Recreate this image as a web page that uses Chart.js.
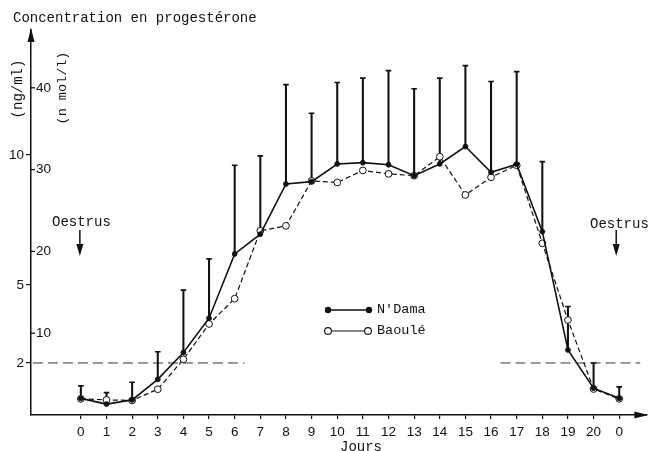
<!DOCTYPE html>
<html><head><meta charset="utf-8">
<script src="https://cdn.jsdelivr.net/npm/chart.js@4"></script>
<style>html,body{margin:0;padding:0;background:#fff}#wrap{width:652px;height:451px;position:relative}</style>
</head><body><div id="wrap"><canvas id="c"></canvas></div>
<script>
// ---- data ----
const dayLabels = ['0','1','2','3','4','5','6','7','8','9','10','11','12','13','14','15','16','17','18','19','20','0'];
const dayIndex = dayLabels.map((_, i) => i);
const ndama      = [0.64,0.42,0.58,1.37,2.40,3.72,6.19,6.95,8.88,8.97,9.65,9.70,9.62,9.20,9.65,10.32,9.33,9.64,7.05,2.50,1.03,0.64];
const baoule     = [0.62,0.58,0.56,0.99,2.14,3.50,4.47,7.08,7.27,9.00,8.94,9.40,9.27,9.20,9.93,8.46,9.14,9.60,6.60,3.65,1.00,0.62];
const ndamaUpper = [1.12,0.86,1.26,2.43,4.80,6.00,9.60,9.96,12.70,11.60,12.78,12.95,13.24,12.54,12.95,13.43,12.82,13.20,9.74,4.17,2.00,1.08];
const ngTicks = [2, 5, 10];
const nmolTicks = [10, 20, 30, 40];
const nmolPerNg = 3.18;
const threshold = 2;
const thresholdLeft = [-1.87, 6.38];
const thresholdRight = [16.37, 21.82];

// ---- layout constants ----
const X_MIN = -1.945, X_MAX = 22.06, Y_MAX = 14.8;
const MONO = '"Liberation Mono", "DejaVu Sans Mono", monospace';
const SANS = '"Liberation Sans", Arial, sans-serif';

function downArrow(ctx, x, y0, y1) {
  ctx.beginPath(); ctx.moveTo(x, y0); ctx.lineTo(x, y1 - 8); ctx.stroke();
  ctx.beginPath(); ctx.moveTo(x, y1); ctx.lineTo(x - 3.5, y1 - 12); ctx.lineTo(x + 3.5, y1 - 12); ctx.closePath(); ctx.fill();
}

const extras = {
  id: 'extras',
  afterDraw(chart) {
    const ctx = chart.ctx, ca = chart.chartArea, y2 = chart.scales.y2;
    ctx.save();
    ctx.strokeStyle = '#111'; ctx.fillStyle = '#111'; ctx.lineWidth = 1.3;
    // nmol tick marks (inside)
    nmolTicks.forEach(v => {
      const py = y2.getPixelForValue(v);
      ctx.beginPath(); ctx.moveTo(ca.left, py); ctx.lineTo(ca.left + 4, py); ctx.stroke();
    });
    // axis arrows
    ctx.beginPath(); ctx.moveTo(ca.left, ca.top - 2); ctx.lineTo(ca.left - 3.5, ca.top + 12); ctx.lineTo(ca.left + 3.5, ca.top + 12); ctx.closePath(); ctx.fill();
    ctx.beginPath(); ctx.moveTo(ca.right + 2, ca.bottom); ctx.lineTo(ca.right - 12, ca.bottom - 3.5); ctx.lineTo(ca.right - 12, ca.bottom + 3.5); ctx.closePath(); ctx.fill();
    // title
    ctx.font = '14px ' + MONO; ctx.textBaseline = 'middle'; ctx.textAlign = 'left';
    ctx.fillText('Concentration en progestérone', 13, 18);
    // rotated unit labels
    ctx.save(); ctx.translate(18, 89); ctx.rotate(-Math.PI / 2); ctx.textAlign = 'center';
    ctx.font = '14px ' + MONO; ctx.fillText('(ng/ml)', 0, 0); ctx.restore();
    ctx.save(); ctx.translate(62, 88); ctx.rotate(-Math.PI / 2); ctx.textAlign = 'center';
    ctx.font = '13.5px ' + MONO; ctx.fillText('(n mol/l)', 0, 0); ctx.restore();
    // Oestrus markers
    ctx.font = '14px ' + MONO; ctx.textAlign = 'left';
    ctx.fillText('Oestrus', 52, 222);
    ctx.fillText('Oestrus', 590, 224);
    ctx.lineWidth = 1.5;
    downArrow(ctx, chart.scales.x.getPixelForValue(0) - 1, 230, 256);
    downArrow(ctx, chart.scales.x.getPixelForValue(21) - 3, 230, 256);
    // x title
    ctx.textAlign = 'center';
    ctx.fillText('Jours', 361, 447);
    // legend
    ctx.lineWidth = 1.6;
    ctx.beginPath(); ctx.moveTo(328, 310); ctx.lineTo(369, 310); ctx.stroke();
    [328, 369].forEach(x => { ctx.beginPath(); ctx.arc(x, 310, 3.2, 0, Math.PI * 2); ctx.fill(); });
    ctx.lineWidth = 1.1;
    ctx.beginPath(); ctx.moveTo(328, 331); ctx.lineTo(368, 331); ctx.stroke();
    [328, 368].forEach(x => { ctx.beginPath(); ctx.arc(x, 331, 3.4, 0, Math.PI * 2); ctx.fillStyle = '#fff'; ctx.fill(); ctx.stroke(); });
    ctx.fillStyle = '#111'; ctx.textAlign = 'left'; ctx.font = '13.5px ' + MONO;
    ctx.fillText("N'Dama", 377, 309);
    ctx.fillText('Baoulé', 377, 330);
    ctx.restore();
  }
};

const pts = arr => arr.map((v, i) => ({ x: dayIndex[i], y: v }));

new Chart(document.getElementById('c'), {
  type: 'line',
  data: {
    datasets: [
      { label: "N'Dama", data: pts(ndama), borderColor: '#111', borderWidth: 1.6, pointRadius: 2.4,
        pointBackgroundColor: '#111', pointBorderColor: '#111', pointBorderWidth: 1, order: 1, yAxisID: 'y', tension: 0 },
      { label: 'Baoulé', data: pts(baoule), borderColor: '#111', borderWidth: 1.2, borderDash: [5, 3],
        pointRadius: 3.4, pointBackgroundColor: '#fff', pointBorderColor: '#111', pointBorderWidth: 1, order: 2, yAxisID: 'y', tension: 0 },
      { type: 'bar', label: 'sd', data: ndama.map((v, i) => ({ x: dayIndex[i], y: [v, ndamaUpper[i]] })),
        backgroundColor: '#111', borderWidth: 0, barThickness: 1.4, order: 3, yAxisID: 'y' },
      { label: 'cap', data: pts(ndamaUpper), showLine: false, pointStyle: 'line', pointRadius: 2.8,
        pointBorderColor: '#111', pointBorderWidth: 1.6, order: 3, yAxisID: 'y' },
      { label: 'seuil1', data: thresholdLeft.map(x => ({ x, y: threshold })), borderColor: '#333', borderWidth: 1,
        borderDash: [10, 5], pointRadius: 0, order: 4, yAxisID: 'y' },
      { label: 'seuil2', data: thresholdRight.map(x => ({ x, y: threshold })), borderColor: '#333', borderWidth: 1,
        borderDash: [10, 5], pointRadius: 0, order: 4, yAxisID: 'y' }
    ]
  },
  options: {
    responsive: true, maintainAspectRatio: false, animation: false,
    layout: { padding: { top: 30, right: 4, left: 0, bottom: 0 } },
    plugins: { legend: { display: false }, tooltip: { enabled: false } },
    scales: {
      x: {
        type: 'linear', min: X_MIN, max: X_MAX, position: 'bottom', offset: false,
        afterBuildTicks: s => { s.ticks = dayIndex.map(v => ({ value: v })); },
        afterFit: s => { s.height = 36; },
        ticks: { callback: v => dayLabels[v], autoSkip: false, maxRotation: 0, padding: 5,
                 color: '#111', font: { family: SANS, size: 13.5 } },
        grid: { display: true, offset: false, drawOnChartArea: false, drawTicks: true, tickLength: 4, color: '#111', lineWidth: 1.2 },
        border: { display: true, color: '#111', width: 1.5 }
      },
      y: {
        type: 'linear', min: 0, max: Y_MAX, position: 'left', weight: 2,
        afterBuildTicks: s => { s.ticks = ngTicks.map(v => ({ value: v })); },
        afterFit: s => { s.width = 31; },
        ticks: { padding: 2, color: '#111', font: { family: SANS, size: 13.5 } },
        grid: { display: true, drawOnChartArea: false, drawTicks: true, tickLength: 5, color: '#111', lineWidth: 1.2 },
        border: { display: true, color: '#111', width: 1.5 }
      },
      y2: {
        type: 'linear', min: 0, max: Y_MAX * nmolPerNg, position: 'left', weight: 0,
        afterBuildTicks: s => { s.ticks = nmolTicks.map(v => ({ value: v })); },
        afterFit: s => { s.width = 0; },
        ticks: { mirror: true, padding: 5, color: '#111', font: { family: SANS, size: 13.5 } },
        grid: { display: false },
        border: { display: false }
      }
    }
  },
  plugins: [extras]
});
</script>
</body></html>
